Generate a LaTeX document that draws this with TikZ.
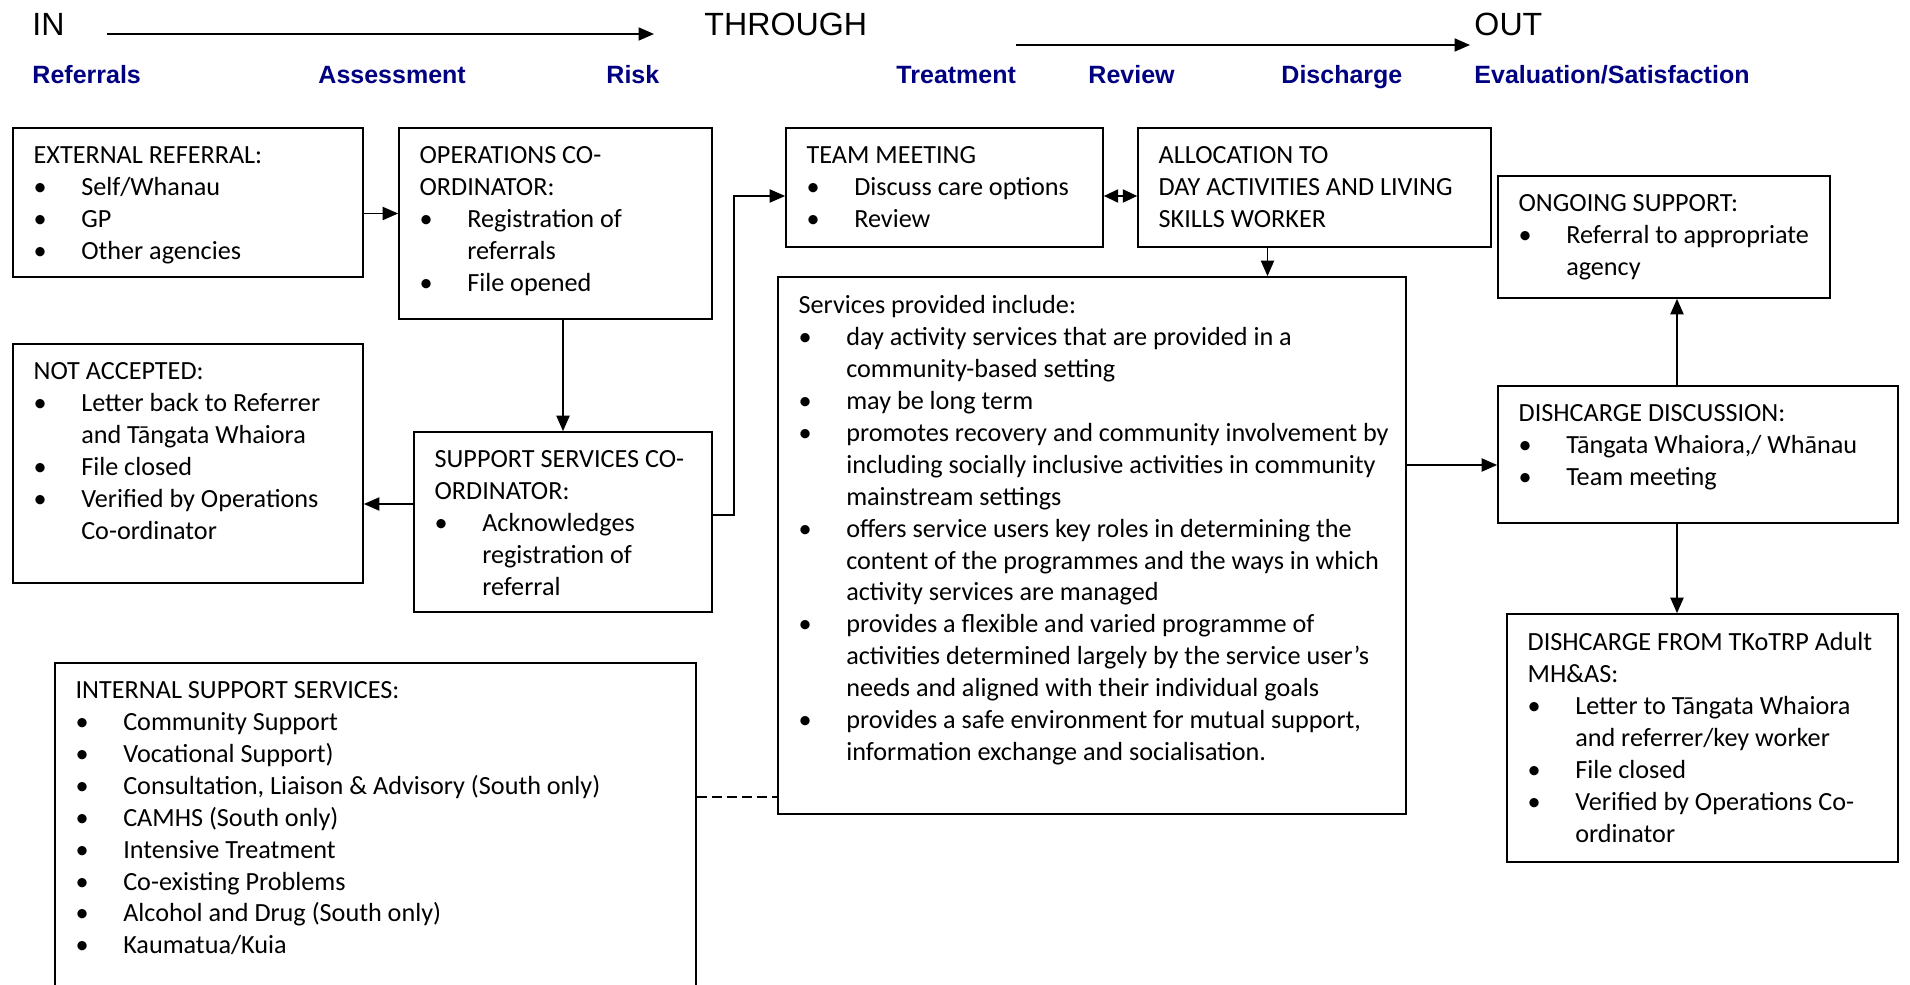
\documentclass[tikz,border=0pt]{standalone}
\usepackage{fontspec}
\setmainfont{Carlito}
\newfontfamily\hdrfont{Liberation Sans}
\usetikzlibrary{arrows.meta,calc,fit}
\definecolor{hdrblue}{RGB}{0,0,128}
\newcommand{\bul}{\makebox[20pt][l]{\textbullet}}
\newcommand{\cont}{\hspace*{20pt}}

\begin{document}
\begin{tikzpicture}[x=0.42pt, y=-0.42pt,
  box/.style={draw, line width=0.7pt, inner sep=0pt},
  txt/.style={anchor=north west, inner sep=0pt, align=left, font=\fontsize{11}{13.4}\selectfont},
  phase/.style={anchor=base west, inner sep=0pt, font=\hdrfont\fontsize{13.5}{16}\selectfont},
  stage/.style={anchor=base west, inner sep=0pt, text=hdrblue, font=\hdrfont\bfseries\fontsize{10.5}{12}\selectfont},
  arr/.style={-{Triangle[length=6.5pt,width=5.5pt]}, line width=0.7pt},
  dbl/.style={{Triangle[length=6pt,width=5.5pt]}-{Triangle[length=6pt,width=5.5pt]}, line width=0.7pt},
  dashln/.style={line width=0.7pt, dash pattern=on 4.2pt off 2.1pt}
]
\useasboundingbox (0,0) rectangle (1910,985);

% IN - THROUGH - OUT
\node[phase] (hin) at (32,36) {IN};
\node[phase] (hthr) at (704,36) {THROUGH};
\node[phase] (hout) at (1474,36) {OUT};
\draw[arr] ($(hin.base east)+(42,-2)$) -- ($(hthr.base west)+(-50,-2)$);
\draw[arr] ($(hthr.base east)+(149,9)$) -- ($(hout.base west)+(-4,9)$);

\node[stage] (sref) at (32,84) {Referrals};
\node[stage] (sass) at (318,84) {Assessment};
\node[stage] (srisk) at (606,84) {Risk};
\node[stage] (strt) at (896,84) {Treatment};
\node[stage] (srev) at (1088,84) {Review};
\node[stage] (sdis) at (1281,84) {Discharge};
\node[stage] (seval) at (1474,84) {Evaluation/Satisfaction};

% boxes
\node[box, fit={(13,128) (363,277)}] (ext) {};
\node[box, fit={(399,128) (712,319)}] (ops) {};
\node[box, fit={(13,344) (363,583)}] (notacc) {};
\node[box, fit={(414,432) (712,612)}] (support) {};
\node[box, fit={(786,128) (1103,247)}] (team) {};
\node[box, fit={(1138,128) (1491,247)}] (alloc) {};
\node[box, fit={(778,277) (1406,814)}] (services) {};
\node[box, fit={(1498,176) (1830,298)}] (ongoing) {};
\node[box, fit={(1498,386) (1898,523)}] (dischdisc) {};
\node[box, fit={(1507,614) (1898,862)}] (dischfrom) {};
\node[box, fit={(55,663) (696,1000)}] (internal) {};

% box texts
\node[txt] (ext-t) at ($(ext.north west)+(21,19)$) {EXTERNAL REFERRAL:\\
  \bul Self/Whanau\\ \bul GP\\ \bul Other agencies};
\node[txt] (ops-t) at ($(ops.north west)+(21,19)$) {OPERATIONS CO-\\ ORDINATOR:\\
  \bul Registration of\\ \cont referrals\\ \bul File opened};
\node[txt] (notacc-t) at ($(notacc.north west)+(21,19)$) {NOT ACCEPTED:\\
  \bul Letter back to Referrer\\ \cont and Tāngata Whaiora\\ \bul File closed\\
  \bul Verified by Operations\\ \cont Co-ordinator};
\node[txt] (support-t) at ($(support.north west)+(21,19)$) {SUPPORT SERVICES CO-\\ ORDINATOR:\\
  \bul Acknowledges\\ \cont registration of\\ \cont referral};
\node[txt] (team-t) at ($(team.north west)+(21,19)$) {TEAM MEETING\\
  \bul Discuss care options\\ \bul Review};
\node[txt] (alloc-t) at ($(alloc.north west)+(21,19)$) {ALLOCATION TO\\
  DAY ACTIVITIES AND LIVING\\ SKILLS WORKER};
\node[txt] (services-t) at ($(services.north west)+(21,19)$) {Services provided include:\\
  \bul day activity services that are provided in a\\ \cont community-based setting\\
  \bul may be long term\\
  \bul promotes recovery and community involvement by\\
  \cont including socially inclusive activities in community\\ \cont mainstream settings\\
  \bul offers service users key roles in determining the\\
  \cont content of the programmes and the ways in which\\ \cont activity services are managed\\
  \bul provides a flexible and varied programme of\\
  \cont activities determined largely by the service user’s\\
  \cont needs and aligned with their individual goals\\
  \bul provides a safe environment for mutual support,\\
  \cont information exchange and socialisation.};
\node[txt] (ongoing-t) at ($(ongoing.north west)+(21,19)$) {ONGOING SUPPORT:\\
  \bul Referral to appropriate\\ \cont agency};
\node[txt] (dischdisc-t) at ($(dischdisc.north west)+(21,19)$) {DISHCARGE DISCUSSION:\\
  \bul Tāngata Whaiora,/ Whānau\\ \bul Team meeting};
\node[txt] (dischfrom-t) at ($(dischfrom.north west)+(21,19)$) {DISHCARGE FROM TKoTRP Adult\\ MH\&AS:\\
  \bul Letter to Tāngata Whaiora\\ \cont and referrer/key worker\\ \bul File closed\\
  \bul Verified by Operations Co-\\ \cont ordinator};
\node[txt] (internal-t) at ($(internal.north west)+(21,19)$) {INTERNAL SUPPORT SERVICES:\\
  \bul Community Support\\ \bul Vocational Support)\\
  \bul Consultation, Liaison \& Advisory (South only)\\ \bul CAMHS (South only)\\
  \bul Intensive Treatment\\ \bul Co-existing Problems\\
  \bul Alcohol and Drug (South only)\\ \bul Kaumatua/Kuia};

% connectors
\coordinate (e1) at ($(ext.east)+(0,11)$);
\draw[arr] (e1) -- (e1 -| ops.west);
\draw[arr] (ops.south -| support.north) -- (support.north);
\coordinate (s1) at ($(support.west)+(0,-18)$);
\draw[arr] (s1) -- (s1 -| notacc.east);
\draw[arr] ($(support.east)+(0,-7)$) -- ++(21,0) |- ($(team.west)+(0,8.5)$);
\coordinate (t1) at ($(team.east)+(0,8.5)$);
\draw[dbl] (t1) -- (t1 -| alloc.west);
\coordinate (a1) at ($(alloc.south)+(-47,0)$);
\draw[arr] (a1) -- (a1 |- services.north);
\coordinate (d1) at ($(dischdisc.west)+(0,10.5)$);
\draw[arr] (d1 -| services.east) -- (d1);
\coordinate (d2) at ($(dischdisc.north)+(-21,0)$);
\draw[arr] (d2) -- (d2 |- ongoing.south);
\draw[arr] (d2 |- dischdisc.south) -- (d2 |- dischfrom.north);
\coordinate (v1) at ($(services.south west)+(0,-18)$);
\draw[dashln] (v1 -| internal.east) -- (v1);

\end{tikzpicture}
\end{document}
